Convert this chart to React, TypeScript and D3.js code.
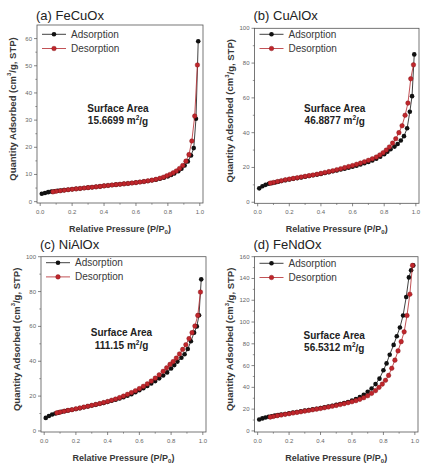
import React from 'react';
import * as d3 from 'd3';

// ---------- data ----------
const P_ADS = [0.01,0.03,0.05,0.07,0.09,0.11,0.13,0.15,0.175,0.2,0.225,0.25,0.275,0.3,0.325,0.35,0.375,0.4,0.425,0.45,0.475,0.5,0.525,0.55,0.575,0.6,0.625,0.65,0.675,0.7,0.725,0.75,0.775,0.8,0.82,0.84,0.865,0.885,0.905,0.925,0.945,0.962,0.976,0.99];
const P_DES = [0.985,0.968,0.95,0.932,0.913,0.893,0.873,0.853,0.833,0.813,0.793,0.772,0.75,0.725,0.7,0.675,0.65,0.625,0.6,0.575,0.55,0.525,0.5,0.475,0.45,0.425,0.4,0.375,0.35,0.325,0.3,0.275,0.25,0.225,0.2,0.175,0.15,0.125,0.1,0.08];

const FECUOX_ADS = [2.9,3.2,3.5,3.7,3.85,4.0,4.1,4.25,4.4,4.55,4.7,4.85,5.0,5.15,5.3,5.45,5.6,5.8,5.95,6.1,6.25,6.4,6.55,6.7,6.85,7.0,7.2,7.4,7.6,7.85,8.1,8.4,8.8,9.3,9.8,10.4,11.2,12.1,13.3,14.8,17.0,19.7,30.5,59];
const FECUOX_DES = [50.3,31.5,22.3,17.3,14.9,13.3,12.2,11.3,10.6,10.0,9.5,9.0,8.6,8.2,7.9,7.65,7.4,7.2,7.0,6.85,6.7,6.55,6.4,6.25,6.1,5.95,5.8,5.6,5.45,5.3,5.15,5.0,4.85,4.7,4.55,4.4,4.2,4.0,3.8,3.6];

const CUALOX_ADS = [8.0,9.2,10.0,10.6,11.0,11.4,11.8,12.2,12.7,13.1,13.5,13.9,14.3,14.7,15.1,15.5,15.9,16.3,16.8,17.3,17.8,18.3,18.8,19.3,19.8,20.4,21.0,21.7,22.4,23.2,24.0,25.0,26.2,27.6,29.0,30.5,32.0,33.5,35.5,38.0,42.5,52.0,61.0,85.0];
const CUALOX_DES = [79,71,57,50,44,40,36.5,34,31.8,30,28.5,27.2,26.0,25.0,24.1,23.3,22.5,21.8,21.1,20.5,19.9,19.3,18.7,18.1,17.6,17.1,16.6,16.1,15.7,15.3,14.9,14.5,14.1,13.7,13.3,12.9,12.4,11.9,11.4,11.0];

const NIALOX_ADS = [7.5,8.6,9.4,10.0,10.5,11.0,11.4,11.8,12.2,12.6,13.1,13.6,14.1,14.6,15.1,15.6,16.1,16.7,17.3,17.9,18.6,19.4,20.2,21.1,22.2,23.4,24.5,25.8,27.2,28.6,30.2,31.8,33.6,35.8,37.8,39.8,42.0,44.0,47.0,51.5,56.4,60.0,66.4,87.0];
const NIALOX_DES = [79.7,66.3,60.2,56.4,53.0,49.5,46.8,44.2,41.8,39.8,38.2,36.2,34.2,32.2,30.3,28.6,27.0,25.6,24.3,23.1,22.0,21.0,20.0,19.1,18.3,17.6,16.9,16.3,15.7,15.2,14.7,14.2,13.7,13.2,12.7,12.2,11.8,11.3,10.8,10.4];

const FENDOX_ADS = [10.5,11.5,12.3,13.0,13.5,14.0,14.5,15.0,15.6,16.2,16.8,17.4,18.0,18.6,19.2,19.8,20.4,21.0,21.7,22.4,23.1,23.9,24.7,25.6,26.6,27.8,29.2,31.0,33.2,36.0,39.0,43.0,48.0,55.7,62.0,70.0,79.0,87.0,95.0,106.0,123.0,141.0,147.5,152.0];
const FENDOX_DES = [152,125.5,106,91,82,73.5,65,57.5,51,46.5,43,40,37,34.5,32.3,30.5,29.0,27.8,26.8,25.9,25.0,24.2,23.4,22.7,22.0,21.3,20.6,20.0,19.4,18.8,18.2,17.6,17.0,16.4,15.8,15.2,14.6,14.0,13.3,12.7];

const PANEL_TITLES = ['(a) FeCuOx', '(b) CuAlOx', '(c) NiAlOx', '(d) FeNdOx'];
const SURFACE_AREAS = ['15.6699', '46.8877', '111.15', '56.5312'];
const SERIES_NAMES = ['Adsorption', 'Desorption'];
const X_TICKS = [0, 0.2, 0.4, 0.6, 0.8, 1.0];
const Y_TICKS_A = [0, 10, 20, 30, 40, 50, 60];
const Y_TICKS_B = [0, 20, 40, 60, 80, 100];
const Y_TICKS_C = [0, 20, 40, 60, 80, 100];
const Y_TICKS_D = [0, 20, 40, 60, 80, 100, 120, 140, 160];

const ADS_SETS = [FECUOX_ADS, CUALOX_ADS, NIALOX_ADS, FENDOX_ADS];
const DES_SETS = [FECUOX_DES, CUALOX_DES, NIALOX_DES, FENDOX_DES];
const Y_TICK_SETS = [Y_TICKS_A, Y_TICKS_B, Y_TICKS_C, Y_TICKS_D];

// ---------- layout / style ----------
const W = 430, H = 473;
const FONT = "Arial, 'Liberation Sans', Helvetica, sans-serif";
const LAYOUT = [
  { left: 37, right: 203, top: 25, bottom: 203, yDom: [-0.5, 65], minor: 5, titleY: 20, legendY: 34.3, areaY: 108.3 },
  { left: 254.5, right: 419, top: 28.3, bottom: 203.3, yDom: [-0.6, 100], minor: 10, titleY: 20, legendY: 34.3, areaY: 108.3 },
  { left: 41, right: 206, top: 256.7, bottom: 432, yDom: [-0.6, 100], minor: 10, titleY: 249, legendY: 262.7, areaY: 332.7 },
  { left: 254.5, right: 418, top: 256.7, bottom: 432, yDom: [-1, 160], minor: 10, titleY: 249, legendY: 263.3, areaY: 335 },
];
const ADS_COLOR = '#111111';
const DES_FILL = '#c0262c';
const DES_STROKE = '#7d1214';
const DES_LINE = '#b3262b';
const AXIS_COLOR = '#555555';
const TEXT_COLOR = '#383838';

function Panel({ i }: { i: number }) {
  const L = LAYOUT[i];
  const x = d3.scaleLinear().domain([-0.02, 1.02]).range([L.left, L.right]);
  const y = d3.scaleLinear().domain(L.yDom).range([L.bottom, L.top]);
  const ads = P_ADS.map((p, k) => [p, ADS_SETS[i][k]] as [number, number]);
  const des = P_DES.map((p, k) => [p, DES_SETS[i][k]] as [number, number]);
  const line = d3.line<[number, number]>().x(d => x(d[0])).y(d => y(d[1]));
  const yTicks = Y_TICK_SETS[i];
  const yMax = yTicks[yTicks.length - 1];
  const yMinor = d3.range(0, yMax + 0.001, L.minor).filter(v => !yTicks.includes(v));
  const xMinor = [0.1, 0.3, 0.5, 0.7, 0.9];
  const cx = (L.left + L.right) / 2 - 2;
  const cy = (L.top + L.bottom) / 2 - 5;
  const legX0 = L.left + 5, legX1 = L.left + 29;
  const r = 2.3;
  return (
    <g>
      <text x={L.left - 1} y={L.titleY} fontSize={13} fill="#222" fontFamily={FONT}>{PANEL_TITLES[i]}</text>
      <rect x={L.left} y={L.top} width={L.right - L.left} height={L.bottom - L.top} fill="none" stroke={AXIS_COLOR} strokeWidth={0.8} />
      {X_TICKS.map(t => (
        <g key={'xt' + t}>
          <line x1={x(t)} x2={x(t)} y1={L.bottom} y2={L.bottom + 3} stroke={AXIS_COLOR} strokeWidth={0.7} />
          <text x={x(t)} y={L.bottom + 9} fontSize={6} fill="#666" textAnchor="middle" dominantBaseline="central" fontFamily={FONT}>{t.toFixed(1)}</text>
        </g>
      ))}
      {xMinor.map(t => (
        <line key={'xm' + t} x1={x(t)} x2={x(t)} y1={L.bottom} y2={L.bottom + 1.7} stroke={AXIS_COLOR} strokeWidth={0.6} />
      ))}
      {yTicks.map(t => (
        <g key={'yt' + t}>
          <line x1={L.left - 3} x2={L.left} y1={y(t)} y2={y(t)} stroke={AXIS_COLOR} strokeWidth={0.7} />
          <text x={L.left - 5} y={y(t)} fontSize={6} fill="#666" textAnchor="end" dominantBaseline="central" fontFamily={FONT}>{t}</text>
        </g>
      ))}
      {yMinor.map(t => (
        <line key={'ym' + t} x1={L.left - 1.7} x2={L.left} y1={y(t)} y2={y(t)} stroke={AXIS_COLOR} strokeWidth={0.6} />
      ))}
      {/* axis titles */}
      <text x={(L.left + L.right) / 2} y={L.bottom + 26} fontSize={9} fontWeight="bold" fill={TEXT_COLOR} textAnchor="middle" dominantBaseline="central" fontFamily={FONT}>
        Relative Pressure (P/P<tspan fontSize={6} dy={2.5}>0</tspan><tspan dy={-2.5}>)</tspan>
      </text>
      <text transform={`translate(${L.left - 25},${cy}) rotate(-90)`} fontSize={9.5} fontWeight="bold" fill={TEXT_COLOR} textAnchor="middle" dominantBaseline="central" fontFamily={FONT}>
        Quantity Adsorbed (cm<tspan fontSize={6} dy={-3}>3</tspan><tspan dy={3}>/g, STP)</tspan>
      </text>
      {/* series */}
      <path d={line(ads) || ''} fill="none" stroke={ADS_COLOR} strokeWidth={0.8} />
      {ads.map((d, k) => <circle key={'a' + k} cx={x(d[0])} cy={y(d[1])} r={r} fill={ADS_COLOR} />)}
      <path d={line(des) || ''} fill="none" stroke={DES_LINE} strokeWidth={0.8} />
      {des.map((d, k) => <circle key={'d' + k} cx={x(d[0])} cy={y(d[1])} r={r} fill={DES_FILL} stroke={DES_STROKE} strokeWidth={0.4} />)}
      {/* legend */}
      {SERIES_NAMES.map((name, k) => {
        const ly = L.legendY + k * 14.2;
        const isAds = k === 0;
        return (
          <g key={name}>
            <line x1={legX0} x2={legX1} y1={ly} y2={ly} stroke={isAds ? ADS_COLOR : DES_LINE} strokeWidth={0.8} />
            <circle cx={(legX0 + legX1) / 2} cy={ly} r={r} fill={isAds ? ADS_COLOR : DES_FILL} stroke={isAds ? 'none' : DES_STROKE} strokeWidth={0.4} />
            <text x={L.left + 34} y={ly} fontSize={10} fill={TEXT_COLOR} dominantBaseline="central" fontFamily={FONT}>{name}</text>
          </g>
        );
      })}
      {/* annotation */}
      <text x={cx} y={L.areaY} fontSize={10} fontWeight="bold" fill="#222" textAnchor="middle" dominantBaseline="central" fontFamily={FONT}>Surface Area</text>
      <text x={cx} y={L.areaY + 12.5} fontSize={10} fontWeight="bold" fill="#222" textAnchor="middle" dominantBaseline="central" fontFamily={FONT}>
        {SURFACE_AREAS[i]} m<tspan fontSize={6.5} dy={-3.5}>2</tspan><tspan dy={3.5}>/g</tspan>
      </text>
    </g>
  );
}

export default function App() {
  return (
    <svg width={W} height={H} style={{ position: 'absolute', left: 0, top: 0, background: '#fff' }}>
      <rect width={W} height={H} fill="#fff" />
      {[0, 1, 2, 3].map(i => <Panel key={i} i={i} />)}
    </svg>
  );
}
